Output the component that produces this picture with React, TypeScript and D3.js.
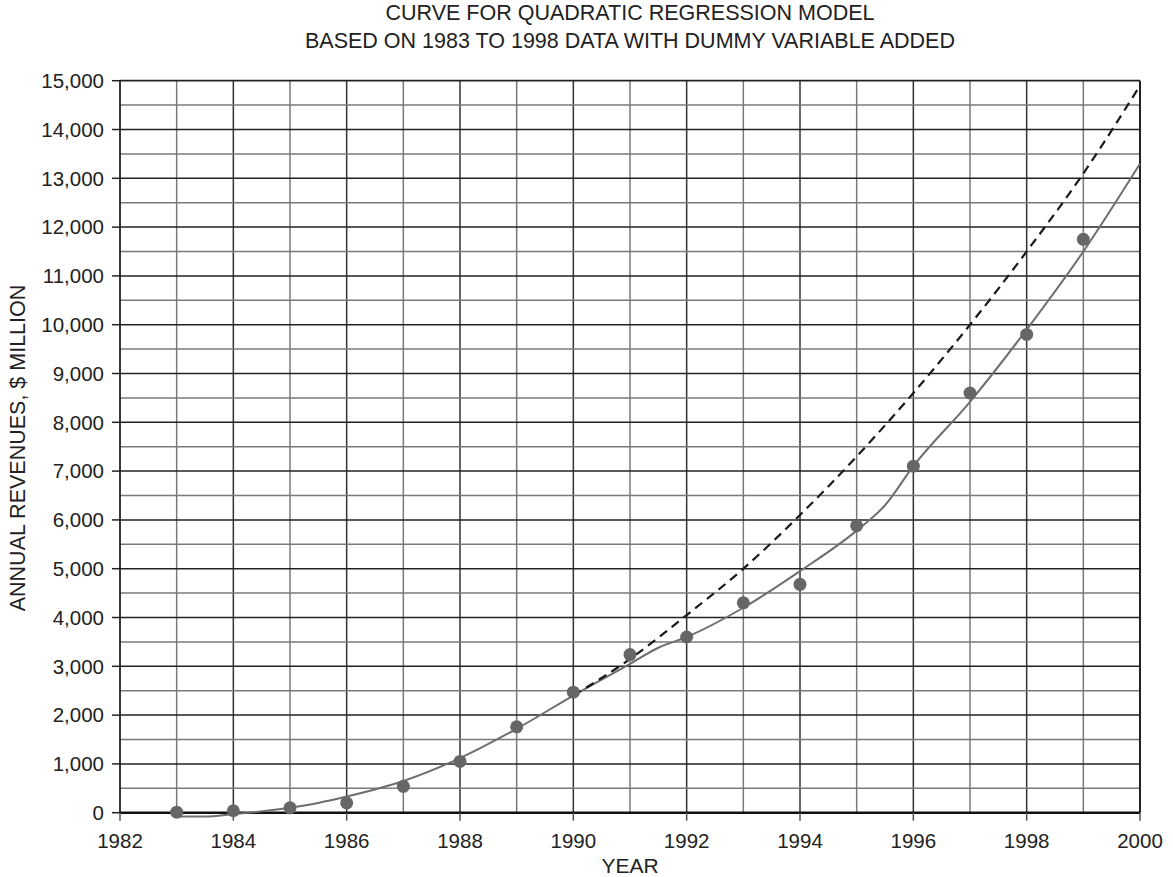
import React from "react";
import * as d3 from "d3";

const titleLines = [
  "CURVE FOR QUADRATIC REGRESSION MODEL",
  "BASED ON 1983 TO 1998 DATA WITH DUMMY VARIABLE ADDED",
];
const xLabel = "YEAR";
const yLabel = "ANNUAL REVENUES, $ MILLION";

const xTicks = [1982, 1984, 1986, 1988, 1990, 1992, 1994, 1996, 1998, 2000];
const yTicks = [0, 1000, 2000, 3000, 4000, 5000, 6000, 7000, 8000, 9000, 10000, 11000, 12000, 13000, 14000, 15000];

const actualYears = [1983, 1984, 1985, 1986, 1987, 1988, 1989, 1990, 1991, 1992, 1993, 1994, 1995, 1996, 1997, 1998, 1999];
const actualValues = [10, 40, 100, 200, 540, 1050, 1760, 2470, 3240, 3600, 4300, 4680, 5880, 7100, 8600, 9800, 11750];

const fitYears = [1983, 1983.5, 1984, 1985, 1985.5, 1986, 1987, 1988, 1989, 1990, 1991, 1991.5, 1992, 1993, 1994, 1995, 1995.5, 1996, 1997, 1998, 1999, 2000];
const fitValues = [-80, -80, -30, 100, 200, 330, 650, 1120, 1720, 2400, 3050, 3380, 3600, 4200, 4950, 5780, 6300, 7100, 8420, 9900, 11500, 13300];

const dummyYears = [1990, 1991, 1992, 1993, 1994, 1995, 1996, 1997, 1998, 1999, 2000];
const dummyValues = [2400, 3150, 4050, 5000, 6100, 7300, 8600, 10000, 11500, 13100, 14900];

const W = 1173;
const H = 877;
const left = 120;
const right = 1140;
const top = 80.7;
const bottom = 812.7;

export default function App() {
  const x = d3.scaleLinear().domain([1982, 2000]).range([left, right]);
  const y = d3.scaleLinear().domain([0, 15000]).range([bottom, top]);

  const gridYears = d3.range(1983, 2000, 1);
  const gridVals = d3.range(500, 15000, 500);

  const fitLine = d3
    .line<number>()
    .x((_, i) => x(fitYears[i]))
    .y((v) => y(v))
    .curve(d3.curveMonotoneX);
  const dummyLine = d3
    .line<number>()
    .x((_, i) => x(dummyYears[i]))
    .y((v) => y(v))
    .curve(d3.curveMonotoneX);

  const font = "'Liberation Sans', Arial, Helvetica, sans-serif";
  const fmt = d3.format(",");

  return (
    <div style={{ position: "absolute", left: 0, top: 0 }}>
      <svg width={W} height={H} style={{ display: "block", background: "#fff" }} fontFamily={font}>
        {titleLines.map((t, i) => (
          <text key={i} x={630} y={20 + i * 28} textAnchor="middle" fontSize={21.5} fill="#222">
            {t}
          </text>
        ))}
        {/* grid */}
        {gridYears.map((yr) => (
          <line
            key={"v" + yr}
            x1={x(yr)}
            x2={x(yr)}
            y1={top}
            y2={bottom}
            stroke={yr % 2 === 0 ? "#333" : "#7a7a7a"}
            strokeWidth={1.5}
          />
        ))}
        {gridVals.map((v) => (
          <line
            key={"h" + v}
            x1={left}
            x2={right}
            y1={y(v)}
            y2={y(v)}
            stroke={v % 1000 === 0 ? "#222" : "#7a7a7a"}
            strokeWidth={1.5}
          />
        ))}
        {/* frame */}
        <line x1={left} x2={right} y1={top} y2={top} stroke="#222" strokeWidth={1.8} />
        <line x1={left} x2={left} y1={top} y2={bottom} stroke="#222" strokeWidth={1.8} />
        <line x1={right} x2={right} y1={top} y2={bottom} stroke="#222" strokeWidth={2} />
        <line x1={left} x2={right} y1={bottom} y2={bottom} stroke="#111" strokeWidth={2.5} />
        {/* ticks */}
        {yTicks.map((v) => (
          <g key={"yt" + v}>
            <line x1={left - 8} x2={left} y1={y(v)} y2={y(v)} stroke="#222" strokeWidth={1.5} />
            <text x={104} y={y(v)} dy="0.36em" textAnchor="end" fontSize={20.5} fill="#222">
              {fmt(v)}
            </text>
          </g>
        ))}
        {xTicks.map((v) => (
          <g key={"xt" + v}>
            <line x1={x(v)} x2={x(v)} y1={bottom} y2={bottom + 8} stroke="#555" strokeWidth={1.5} />
            <text x={x(v)} y={848} textAnchor="middle" fontSize={20.5} fill="#222">
              {v}
            </text>
          </g>
        ))}
        <text x={630} y={873} textAnchor="middle" fontSize={21} fill="#222">
          {xLabel}
        </text>
        <text
          transform={`translate(25,448) rotate(-90)`}
          textAnchor="middle"
          fontSize={21.5}
          fill="#222"
        >
          {yLabel}
        </text>
        {/* curves */}
        <path d={fitLine(fitValues) || ""} fill="none" stroke="#6e6e6e" strokeWidth={2} />
        <path
          d={dummyLine(dummyValues) || ""}
          fill="none"
          stroke="#1a1a1a"
          strokeWidth={2.2}
          strokeDasharray="9,6"
        />
        {actualValues.map((v, i) => (
          <circle key={"p" + i} cx={x(actualYears[i])} cy={y(v)} r={6.5} fill="#666" />
        ))}
      </svg>
    </div>
  );
}
